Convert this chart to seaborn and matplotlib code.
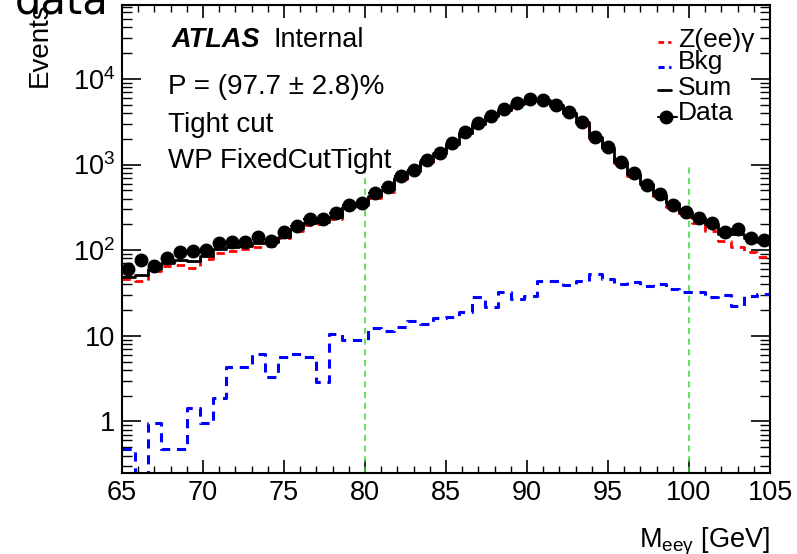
import numpy as np
import pandas as pd
import matplotlib
matplotlib.use("Agg")
import matplotlib.pyplot as plt
import seaborn as sns
from matplotlib.lines import Line2D
from matplotlib.ticker import FixedLocator, NullFormatter, FixedFormatter

# ---------------- data ----------------
m_low, m_high, n_bins = 65.0, 105.0, 50

data = [60, 77, 65, 81, 94, 97, 101, 120, 125, 126,
        141, 129, 164, 192, 231, 231, 270, 337, 353, 470,
        543, 736, 865, 1132, 1377, 1774, 2370, 3036, 3697, 4426,
        5200, 5786, 5690, 4924, 4080, 3145, 2117, 1592, 1082, 791,
        578, 450, 337, 277, 236, 206, 162, 175, 140, 131]

total = [49, 52, 60, 70, 76, 75, 86, 102, 110, 113,
         120, 125, 144, 178, 210, 212, 246, 317, 337, 430,
         500, 700, 850, 1100, 1350, 1750, 2330, 3000, 3650, 4380,
         5150, 5650, 5600, 4900, 4050, 3100, 2100, 1570, 1070, 780,
         585, 445, 355, 280, 240, 200, 155, 155, 140, 126]

sig = [46, 44, 57, 65, 68, 62, 78, 92, 99, 104,
       110, 112, 138, 168, 198, 200, 232, 300, 322, 412,
       484, 687, 835, 1085, 1333, 1730, 2310, 2970, 3610, 4340,
       5110, 5605, 5555, 4860, 4000, 3055, 2050, 1525, 1030, 740,
       550, 404, 322, 246, 209, 168, 128, 108, 96, 84]

bkg = [0.48, 0.1, 0.96, 0.48, 0.48, 1.43, 0.95, 1.89, 4.3, 4.3,
       6.2, 3.3, 5.7, 6.2, 5.7, 2.86, 10.6, 9.0, 9.0, 12.2,
       11.4, 12.8, 15.0, 13.7, 16.1, 16.4, 19.0, 28.4, 21.9, 32.8,
       26.9, 29.4, 43.7, 43.7, 39.5, 43.7, 53.2, 46.5, 40.6, 42.9,
       38.2, 40.3, 35.2, 32.8, 32.8, 28.6, 30.2, 22.3, 29.2, 31.0]

legend_labels = ["Z(ee)\u03b3", "Bkg", "Sum", "Data"]
x_ticks = [65, 70, 75, 80, 85, 90, 95, 100, 105]
y_ticks = [1, 10, 100, 1000, 10000]
y_tick_labels = ["1", "10", r"$\mathregular{10^{2}}$", r"$\mathregular{10^{3}}$", r"$\mathregular{10^{4}}$"]
window_lines = [80, 100]

# ---------------- style ----------------
sns.set_style("ticks")
plt.rcParams["font.family"] = ["Liberation Sans", "DejaVu Sans"]
plt.rcParams["mathtext.fontset"] = "custom"
plt.rcParams["mathtext.rm"] = "Liberation Sans"
plt.rcParams["mathtext.it"] = "Liberation Sans:italic"
plt.rcParams["mathtext.bf"] = "Liberation Sans:bold"
plt.rcParams["text.color"] = "black"
plt.rcParams["axes.edgecolor"] = "black"
plt.rcParams["xtick.color"] = "black"
plt.rcParams["ytick.color"] = "black"
plt.rcParams["xtick.labelcolor"] = "black"
plt.rcParams["ytick.labelcolor"] = "black"

W, H = 797, 554
fig = plt.figure(figsize=(W / 100, H / 100), dpi=100)
L, R, B, T = 122, 770, 473, 5
ax = fig.add_axes([L / W, 1 - B / H, (R - L) / W, (B - T) / H])

edges = [float(e) for e in np.linspace(m_low, m_high, n_bins + 1)]
centers = [0.5 * (a + b) for a, b in zip(edges[:-1], edges[1:])]
df = pd.DataFrame({"m": centers, "sig": sig, "bkg": bkg, "total": total, "data": data})

sns.histplot(data=df, x="m", weights="sig", bins=edges, element="step", fill=False,
             color="#ff0000", linestyle=(0, (3, 2.2)), linewidth=2.0, ax=ax)
sns.histplot(data=df, x="m", weights="bkg", bins=edges, element="step", fill=False,
             color="#0000ff", linestyle=(0, (3, 2.2)), linewidth=2.2, ax=ax)
sns.histplot(data=df, x="m", weights="total", bins=edges, element="step", fill=False,
             color="black", linewidth=2.0, ax=ax)
ax.errorbar(df["m"], df["data"], xerr=0.4, yerr=np.sqrt(df["data"]), fmt="o",
            color="black", ms=9, elinewidth=1.5, capsize=0, zorder=5)

ax.set_yscale("log")
ax.set_xlim(m_low, m_high)
ax.set_ylim(0.25, 7.3e4)
ax.vlines(window_lines, 0.25, 1000, colors="#33dd33", linestyles=(0, (4, 3)), linewidth=1.1, zorder=1)

ax.set_xlabel("")
ax.set_ylabel("")
ax.xaxis.set_major_locator(FixedLocator(x_ticks))
ax.xaxis.set_minor_locator(FixedLocator(np.arange(65, 106, 1)))
ax.set_xticklabels([str(t) for t in x_ticks])
ax.yaxis.set_major_locator(FixedLocator(y_ticks))
ax.yaxis.set_major_formatter(FixedFormatter(y_tick_labels))
minors = [d * 10.0 ** e for e in range(-1, 5) for d in range(2, 10)]
ax.yaxis.set_minor_locator(FixedLocator(minors))
ax.yaxis.set_minor_formatter(NullFormatter())

for s in ax.spines.values():
    s.set_linewidth(1.5)
    s.set_color("black")
    s.set_visible(True)
ax.tick_params(axis="x", which="major", direction="in", length=9.5, width=1.2,
               top=True, bottom=True, labelsize=19.5, pad=5, colors="black")
ax.tick_params(axis="x", which="minor", direction="in", length=5, width=1.0,
               top=True, bottom=True, colors="black")
ax.tick_params(axis="y", which="major", direction="in", length=14, width=1.2,
               left=True, right=True, labelsize=19.5, pad=5, colors="black")
ax.tick_params(axis="y", which="minor", direction="in", length=7, width=1.0,
               left=True, right=True, colors="black")

# ---------------- texts ----------------
def fx(px):
    return px / W

def fy(py):
    return 1 - py / H

fig.text(fx(15), fy(13), "data", fontsize=30, family="DejaVu Sans", va="baseline", ha="left")
fig.text(fx(40), fy(87), "Events", fontsize=20, rotation=90, ha="center", va="bottom")
fig.text(fx(770), fy(547), r"M$_{\mathregular{ee\gamma}}$ [GeV]", fontsize=19.5,
         ha="right", va="baseline")

fig.text(fx(172), fy(47), "ATLAS", fontsize=19.5, fontweight="bold", style="italic", va="baseline")
fig.text(fx(273), fy(47), "Internal", fontsize=19.5, va="baseline")
fig.text(fx(168), fy(94), "P = (97.7 \u00b1 2.8)%", fontsize=20, va="baseline")
fig.text(fx(168), fy(132), "Tight cut", fontsize=20, va="baseline")
fig.text(fx(168), fy(168), "WP FixedCutTight", fontsize=20, va="baseline")

# ---------------- legend (ROOT-style, drawn in figure pixels) ----------------
leg_text_x = 678
leg_baselines = [47, 69.5, 95, 120.5]
leg_marker_y = [41.7, 66.5, 90, 116.5]
leg_styles = [dict(color="#ff0000", linestyle=(0, (2, 1.5)), linewidth=2.0),
              dict(color="#0000ff", linestyle=(0, (2, 1.5)), linewidth=2.2),
              dict(color="black", linestyle="-", linewidth=2.0),
              dict(color="black", linestyle="-", linewidth=1.5)]
for i, (lab, yb, ym, st) in enumerate(zip(legend_labels, leg_baselines, leg_marker_y, leg_styles)):
    fig.text(fx(leg_text_x), fy(yb), lab, fontsize=19, va="baseline", ha="left")
    x_end = 677 if i == 3 else 671
    fig.add_artist(Line2D([fx(658), fx(x_end)], [fy(ym), fy(ym)], transform=fig.transFigure, **st))
    if i == 3:
        fig.add_artist(Line2D([fx(666)], [fy(ym)], transform=fig.transFigure, marker="o",
                              ms=9, color="black", linestyle="none"))

fig.savefig("out.png", dpi=100)
